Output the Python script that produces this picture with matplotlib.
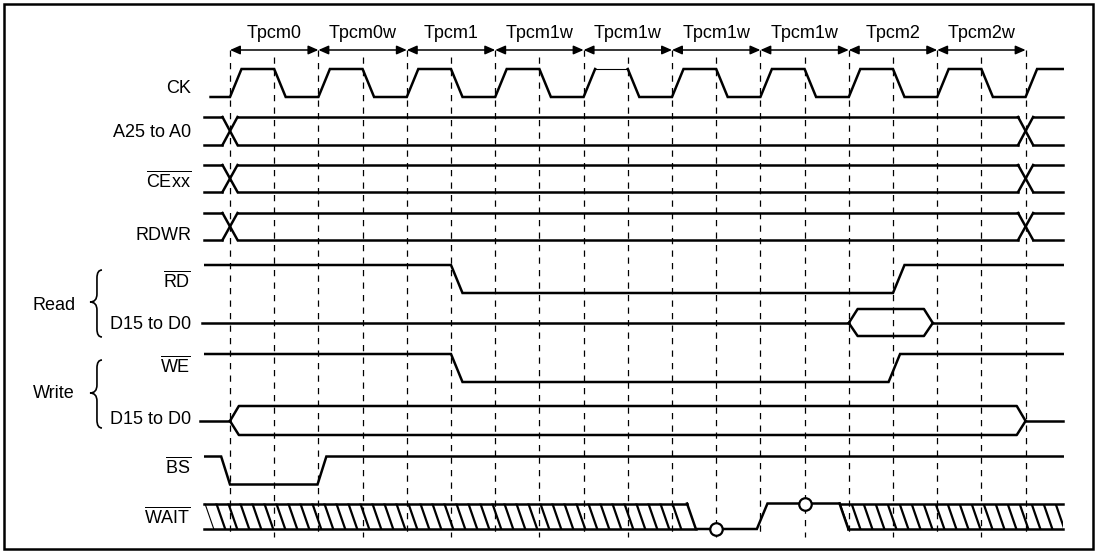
"""
PCMCIA-style bus cycle timing diagram (wait states inserted via WAIT).
"""

import numpy as np
import matplotlib
matplotlib.use("Agg")
import matplotlib.pyplot as plt
from matplotlib.path import Path
from matplotlib.patches import PathPatch, Polygon, Rectangle

plt.rcParams["font.family"] = ["Liberation Sans", "DejaVu Sans"]
plt.rcParams["mathtext.fontset"] = "custom"
plt.rcParams["mathtext.rm"] = "Liberation Sans"
plt.rcParams["mathtext.it"] = "Liberation Sans:italic"

# ---- data (times in clock cycles, counted from the first rising edge) ----
cycle_names = ["Tpcm0", "Tpcm0w", "Tpcm1", "Tpcm1w", "Tpcm1w",
               "Tpcm1w", "Tpcm1w", "Tpcm2", "Tpcm2w"]
cycle_bounds = [0, 1, 2, 3, 4, 5, 6, 7, 8, 9]
half_marks = [0.5, 1.5, 2.5, 3.5, 4.5, 5.5, 6.5, 7.5, 8.5]

ck_rise = [0, 1, 2, 3, 4, 5, 6, 7, 8, 9]
ck_fall = [0.5, 1.5, 2.5, 3.5, 4.5, 5.5, 6.5, 7.5, 8.5]
ck_thin_cycle = 4   # high phase drawn with a thin line in the original

# bus signals: times where the value changes (cross-over)
addr_changes = [0, 9]
ce_changes = [0, 9]
rdwr_changes = [0, 9]

# single-ended strobes: (time, level) vertices, 1 = high, 0 = low
rd_wave = [(-0.28, 1), (2.5, 1), (2.63, 0), (7.5, 0), (7.63, 1), (9.42, 1)]
we_wave = [(-0.28, 1), (2.5, 1), (2.63, 0), (7.45, 0), (7.58, 1), (9.42, 1)]
bs_wave = [(-0.28, 1), (-0.1, 1), (0.0, 0), (0.99, 0), (1.09, 1), (9.42, 1)]

# data valid windows (start, end)
read_valid = (7.0, 7.95)
write_valid = (0.0, 9.0)

# WAIT: hatched "don't care" spans and the driven part in between
wait_dontcare = [(-0.29, 5.17), (6.895, 9.42)]
wait_driven = [(5.17, 1), (5.27, 0), (5.96, 0), (6.08, 1), (6.895, 1)]
wait_samples = [(5.5, 0), (6.5, 1)]   # sampled points (open circles)

# ---- layout (pixel rows, 0 at top) ----
T_END = 9.42
EDGE = 0.13
SLANT = 0.1
LW = 1.8
LABEL_X = -0.44

rows = {
    "ck": (69, 97), "addr": (117, 145), "ce": (165, 192), "rdwr": (213, 240),
    "rd": (265, 293), "rdata": (309, 336), "we": (354, 382),
    "wdata": (406, 435), "bs": (456.5, 484.5), "wait": (503.5, 529),
}

fig = plt.figure(figsize=(11, 5.53), dpi=100)
ax = fig.add_axes([0, 0, 1, 1])
ax.set_xlim(-230 / 88.4, 870 / 88.4)
ax.set_ylim(553, 0)
ax.axis("off")

fig.patches.append(Rectangle((4 / 1100, 4 / 553), 1089 / 1100, 545 / 553,
                             transform=fig.transFigure, fill=False,
                             lw=1.8, edgecolor="black"))


def level_y(row, v):
    hi, lo = rows[row]
    return hi if v else lo


def draw_wave(row, wave, lw=LW):
    xs = [t for t, _ in wave]
    ys = [level_y(row, v) for _, v in wave]
    ax.plot(xs, ys, color="black", lw=lw, solid_joinstyle="miter", zorder=3)


def draw_bus(row, changes, start, end, half=0.085):
    hi, lo = rows[row]
    pts = [start] + changes + [end]
    for a, b in zip(pts[:-1], pts[1:]):
        a0 = a + half if a in changes else a
        b0 = b - half if b in changes else b
        ax.plot([a0, b0], [hi, hi], color="black", lw=LW, zorder=3)
        ax.plot([a0, b0], [lo, lo], color="black", lw=LW, zorder=3)
    for c in changes:
        ax.plot([c - half, c + half], [hi, lo], color="black", lw=LW, zorder=3)
        ax.plot([c - half, c + half], [lo, hi], color="black", lw=LW, zorder=3)


def draw_valid(row, line_y, start, window, end, spread=0.1):
    hi, lo = rows[row]
    a, b = window
    ax.plot([start, a], [line_y, line_y], color="black", lw=LW, zorder=3)
    ax.plot([a, a + spread, b - spread, b], [line_y, hi, hi, line_y],
            color="black", lw=LW, zorder=3)
    ax.plot([a, a + spread, b - spread, b], [line_y, lo, lo, line_y],
            color="black", lw=LW, zorder=3)
    ax.plot([b, end], [line_y, line_y], color="black", lw=LW, zorder=3)


def draw_brace(x_tip, x_body, x_end, y0, y_tip, y1, r=8):
    verts = [(x_end, y0), (x_body, y0), (x_body, y0 + r),
             (x_body, y_tip - r),
             (x_body, y_tip), (x_tip, y_tip),
             (x_body, y_tip), (x_body, y_tip + r),
             (x_body, y1 - r),
             (x_body, y1), (x_end, y1)]
    codes = [Path.MOVETO, Path.CURVE3, Path.CURVE3, Path.LINETO,
             Path.CURVE3, Path.CURVE3, Path.CURVE3, Path.CURVE3,
             Path.LINETO, Path.CURVE3, Path.CURVE3]
    ax.add_patch(PathPatch(Path(verts, codes), fill=False, lw=1.2,
                           edgecolor="black"))


# cycle arrows and names
for k, name in enumerate(cycle_names):
    ax.annotate("", xy=(cycle_bounds[k + 1], 50), xytext=(cycle_bounds[k], 50),
                arrowprops=dict(arrowstyle="<|-|>,head_length=0.5,head_width=0.22",
                                lw=1.1, color="black", shrinkA=0, shrinkB=0,
                                mutation_scale=12))
    ax.text(cycle_bounds[k] + 0.5, 38, name, ha="center", va="baseline",
            fontsize=13)

# dashed reference lines
for t in cycle_bounds:
    ax.plot([t, t], [50, 537], color="black", lw=0.9,
            linestyle=(0, (5, 5)), zorder=1)
for t in half_marks:
    ax.plot([t, t], [57, 537], color="black", lw=0.9,
            linestyle=(0, (5, 5)), zorder=1)

# CK, split around the thin high phase
ck_pts = [(-0.22, 0)]
for k, r in enumerate(ck_rise):
    ck_pts += [(r, 0), (r + EDGE, 1)]
    if k < len(ck_fall):
        ck_pts += [(ck_fall[k], 1), (ck_fall[k] + EDGE, 0)]
ck_pts.append((T_END, 1))
t_a = ck_rise[ck_thin_cycle] + EDGE
t_b = ck_fall[ck_thin_cycle]
draw_wave("ck", [p for p in ck_pts if p[0] <= t_a])
draw_wave("ck", [p for p in ck_pts if p[0] >= t_b])
draw_wave("ck", [(t_a, 1), (t_b, 1)], lw=0.8)

# buses
draw_bus("addr", addr_changes, -0.29, T_END)
draw_bus("ce", ce_changes, -0.29, T_END)
draw_bus("rdwr", rdwr_changes, -0.29, T_END)

# strobes
draw_wave("rd", rd_wave)
draw_wave("we", we_wave)
draw_wave("bs", bs_wave)

# data
draw_valid("rdata", 323, -0.32, read_valid, T_END)
draw_valid("wdata", 421, -0.34, write_valid, T_END)

# WAIT
w_hi, w_lo = rows["wait"]
for a, b in wait_dontcare:
    b_bot = b + SLANT if b < T_END else b
    poly = Polygon([(a, w_hi), (b, w_hi), (b_bot, w_lo), (a + SLANT, w_lo)],
                   closed=True, fill=False, lw=0)
    ax.add_patch(poly)
    ax.plot([a, b], [w_hi, w_hi], color="black", lw=LW, zorder=3)
    ax.plot([a if a < 0 else a + SLANT, b_bot], [w_lo, w_lo], color="black",
            lw=LW, zorder=3)
    for x0 in np.arange(a, b - 0.04, 12 / 88.4):
        ln, = ax.plot([x0, x0 + SLANT], [w_hi, w_lo], color="black",
                      lw=1.6, zorder=3)
        ln.set_clip_path(poly)
    if a > 0:
        ax.plot([a, a + SLANT], [w_hi, w_lo], color="black", lw=LW, zorder=3)
draw_wave("wait", wait_driven)
for t, v in wait_samples:
    ax.plot(t, level_y("wait", v), marker="o", markersize=9,
            markerfacecolor="white", markeredgecolor="black",
            markeredgewidth=1.6, zorder=6)

# signal labels
labels = [
    ("CK", 93.3), ("A25 to A0", 136.7), (r"$\overline{\mathrm{CExx}}$", 187.7),
    ("RDWR", 239.5), (r"$\overline{\mathrm{RD}}$", 287.7), ("D15 to D0", 329),
    (r"$\overline{\mathrm{WE}}$", 372), ("D15 to D0", 424.3),
    (r"$\overline{\mathrm{BS}}$", 473), (r"$\overline{\mathrm{WAIT}}$", 523),
]
for text, y in labels:
    ax.text(LABEL_X, y, text, ha="right", va="baseline", fontsize=13)

# Read / Write groups
ax.text(-1.99, 310, "Read", ha="center", va="baseline", fontsize=13)
ax.text(-1.99, 398, "Write", ha="center", va="baseline", fontsize=13)
draw_brace(-1.584, -1.505, -1.448, 270, 302, 337)
draw_brace(-1.584, -1.505, -1.448, 360, 393, 428)

fig.savefig("out.png", dpi=100)
